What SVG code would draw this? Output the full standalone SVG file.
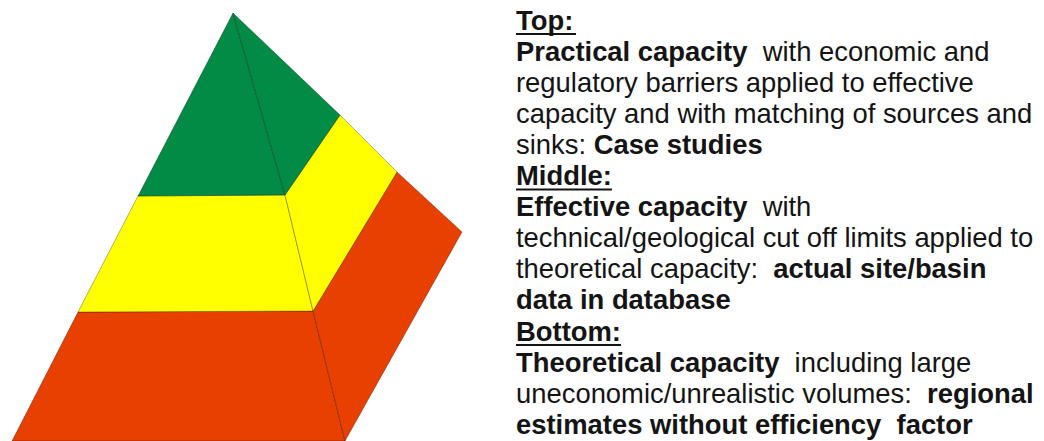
<svg xmlns="http://www.w3.org/2000/svg" width="1044" height="441" viewBox="0 0 1044 441">
<style>
.edge{stroke:#000;stroke-opacity:0.3;stroke-width:1;stroke-linejoin:round}
.g{fill:#028b45}
.y{fill:#ffff00}
.r{fill:#e84000}
text{font-family:"Liberation Sans",Arial,Helvetica,sans-serif;font-size:27.4px;fill:#141414;white-space:pre}
.b{font-weight:bold}
.ul{stroke:#141414;stroke-width:2}
</style>
<rect width="1044" height="441" fill="#fff"/>
<g id="pyramid">
  <g id="layer-bottom">
    <polygon class="r edge" points="78,312 313,311 345,441 12,441"/>
    <polygon class="r edge" points="313,311 397,172 462,232 345,441"/>
  </g>
  <g id="layer-middle">
    <polygon class="y edge" points="138,196 285,195 313,311 78,312"/>
    <polygon class="y edge" points="285,195 340,115 397,172 313,311"/>
  </g>
  <g id="layer-top">
    <polygon class="g edge" points="233,13 285,195 138,196"/>
    <polygon class="g edge" points="233,13 340,115 285,195"/>
  </g>
</g>
<g id="legend">
  <text x="516" y="29.5" class="b">Top:</text>
  <line class="ul" x1="516" y1="34" x2="576" y2="34"/>
  <text x="516" y="60.6" xml:space="preserve"><tspan class="b">Practical capacity</tspan>  with economic and</text>
  <text x="516" y="91.7">regulatory barriers applied to effective</text>
  <text x="516" y="122.8">capacity and with matching of sources and</text>
  <text x="516" y="153.9" xml:space="preserve">sinks: <tspan class="b">Case studies</tspan></text>
  <text x="516" y="185" class="b">Middle:</text>
  <line class="ul" x1="516" y1="189.5" x2="612" y2="189.5"/>
  <text x="516" y="216.1" xml:space="preserve"><tspan class="b">Effective capacity</tspan>  with</text>
  <text x="516" y="247.2">technical/geological cut off limits applied to</text>
  <text x="516" y="278.3" xml:space="preserve">theoretical capacity:  <tspan class="b">actual site/basin</tspan></text>
  <text x="516" y="309.4" class="b">data in database</text>
  <text x="516" y="340.5" class="b">Bottom:</text>
  <line class="ul" x1="516" y1="345" x2="621" y2="345"/>
  <text x="516" y="371.6" xml:space="preserve"><tspan class="b">Theoretical capacity</tspan>  including large</text>
  <text x="516" y="402.7" xml:space="preserve">uneconomic/unrealistic volumes:  <tspan class="b">regional</tspan></text>
  <text x="516" y="433.8" class="b" xml:space="preserve">estimates without efficiency  factor</text>
</g>
</svg>
